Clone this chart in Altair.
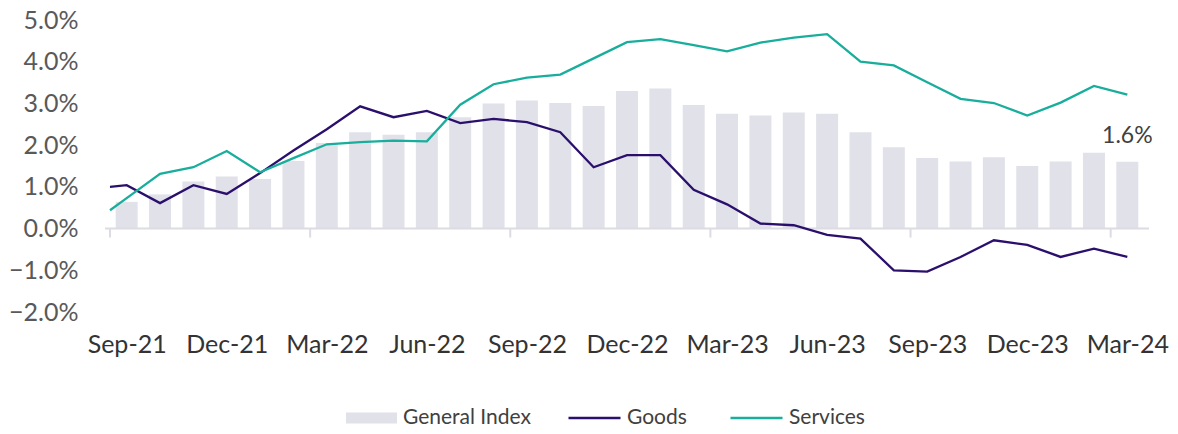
import altair as alt
import pandas as pd

months = ["Sep-21", "Oct-21", "Nov-21", "Dec-21", "Jan-22", "Feb-22", "Mar-22", "Apr-22",
          "May-22", "Jun-22", "Jul-22", "Aug-22", "Sep-22", "Oct-22", "Nov-22", "Dec-22",
          "Jan-23", "Feb-23", "Mar-23", "Apr-23", "May-23", "Jun-23", "Jul-23", "Aug-23",
          "Sep-23", "Oct-23", "Nov-23", "Dec-23", "Jan-24", "Feb-24", "Mar-24"]

general_index = [0.64, 0.82, 1.13, 1.25, 1.19, 1.62, 2.05, 2.31, 2.25, 2.31, 2.67, 3.00,
                 3.07, 3.01, 2.94, 3.30, 3.36, 2.96, 2.75, 2.71, 2.78, 2.75, 2.31, 1.95,
                 1.69, 1.61, 1.71, 1.50, 1.61, 1.82, 1.60]

goods = [1.04, 0.61, 1.04, 0.83, 1.33, 1.87, 2.38, 2.93, 2.67, 2.82, 2.53, 2.63,
         2.55, 2.31, 1.47, 1.76, 1.76, 0.93, 0.58, 0.12, 0.08, -0.15, -0.24, -1.00,
         -1.03, -0.68, -0.28, -0.39, -0.68, -0.48, -0.68]

services = [0.73, 1.31, 1.47, 1.86, 1.35, 1.69, 2.02, 2.07, 2.11, 2.09, 2.97, 3.46,
            3.62, 3.69, 4.08, 4.47, 4.54, 4.40, 4.25, 4.46, 4.58, 4.66, 4.00, 3.91,
            3.51, 3.11, 3.01, 2.71, 3.02, 3.42, 3.21]

# lines begin at the left edge of the first category
line_start_pos = -0.5
line_start = {"Goods": 1.00, "Services": 0.44}

label_positions = list(range(0, 31, 3))
tick_positions = [-0.5, 5.5, 11.5, 17.5, 23.5, 29.5]
y_values = [-2, -1, 0, 1, 2, 3, 4, 5]

series_names = ["General Index", "Goods", "Services"]
bar_color = "#e1e2e9"
goods_color = "#2b0f6c"
services_color = "#19ae9c"
FONT = "Lato"

idx = list(range(len(months)))
bars_df = pd.DataFrame({"i": idx, "month": months, "value": general_index,
                        "series": series_names[0]})
rows = []
for name, vals in (("Goods", goods), ("Services", services)):
    rows.append({"i": line_start_pos, "series": name, "value": line_start[name]})
    for i, v in zip(idx, vals):
        rows.append({"i": i, "series": name, "value": v})
lines_df = pd.DataFrame(rows)
ticks_df = pd.DataFrame({"t": tick_positions})
zero_df = pd.DataFrame({"zero": [0]})

month_js = "[" + ",".join("'" + m + "'" for m in months) + "]"

x_scale = alt.Scale(domain=[-0.5, len(months) - 0.5], nice=False, zero=False)
y_scale = alt.Scale(domain=[-2, 5], nice=False)

x_axis = alt.Axis(values=label_positions, labelExpr=month_js + "[datum.value]",
                  domain=False, ticks=False, grid=False, title=None,
                  labelFontSize=25, labelColor="#333333", labelPadding=20,
                  labelFlush=False, labelFont=FONT)
y_axis = alt.Axis(values=y_values, labelExpr="format(datum.value, '.1f') + '%'",
                  domain=False, ticks=False, grid=False, title=None,
                  labelFontSize=25, labelColor="#595959", labelPadding=27, labelFont=FONT)

X = alt.X("i:Q", scale=x_scale, axis=x_axis)
Y = alt.Y("value:Q", scale=y_scale, axis=y_axis)

LEGEND_Y = 387

bars = alt.Chart(bars_df).mark_bar(size=22).encode(
    x=X, y=Y,
    fill=alt.Fill("series:N",
                  scale=alt.Scale(domain=[series_names[0]], range=[bar_color]),
                  legend=alt.Legend(title=None, orient="none", legendX=241, legendY=LEGEND_Y,
                                    direction="horizontal",
                                    symbolType="M-1,-0.22H1V0.22H-1Z", symbolSize=2601,
                                    symbolStrokeWidth=0, clipHeight=22, padding=0,
                                    labelFontSize=21, labelColor="#404040", labelFont=FONT,
                                    labelOffset=6)),
)

zero_line = alt.Chart(zero_df).mark_rule(color="#dcdce2", strokeWidth=2).encode(
    y=alt.Y("zero:Q", scale=y_scale, axis=y_axis))

ticks = alt.Chart(ticks_df).mark_rule(color="#dcdce2", strokeWidth=2, y2Offset=9).encode(
    x=alt.X("t:Q", scale=x_scale, axis=x_axis), y=alt.datum(0), y2=alt.datum(0))

lines = alt.Chart(lines_df).mark_line(strokeWidth=2.3).encode(
    x=X, y=Y,
    stroke=alt.Stroke("series:N",
                      scale=alt.Scale(domain=series_names[1:], range=[goods_color, services_color]),
                      legend=alt.Legend(title=None, orient="none", legendX=462, legendY=LEGEND_Y,
                                        direction="horizontal",
                                        symbolType="stroke", symbolSize=2704,
                                        symbolStrokeWidth=2.5, clipHeight=22, padding=0,
                                        columnPadding=42,
                                        labelFontSize=21, labelColor="#404040",
                                        labelFont=FONT, labelOffset=5)),
    order="i:Q",
)

last_label = alt.Chart(bars_df).transform_filter(
    alt.datum.i == len(months) - 1
).transform_calculate(
    label="format(datum.value, '.1f') + '%'"
).mark_text(dy=-26, fontSize=23, color="#404040", font=FONT).encode(
    x=X, y=Y, text="label:N")

chart = alt.layer(bars, zero_line, ticks, lines, last_label).properties(
    width=1044, height=292, padding=0,
).configure(font=FONT).configure_view(strokeWidth=0)

chart.save("out.html", embed_options={"renderer": "svg", "actions": False})
